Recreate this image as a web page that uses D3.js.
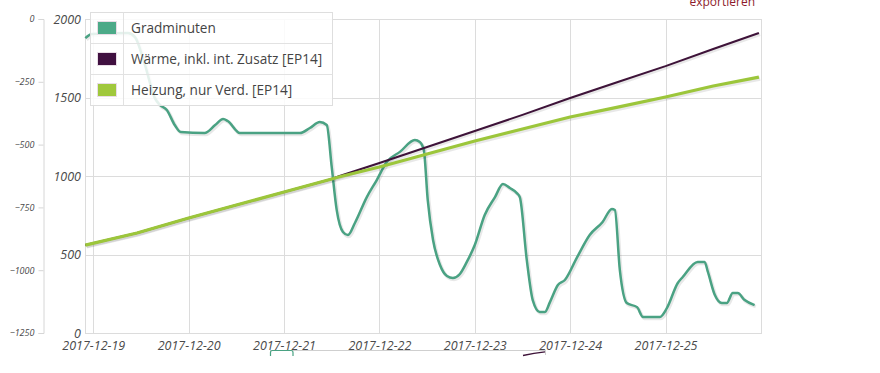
<!DOCTYPE html>
<html>
<head>
<meta charset="utf-8">
<script src="https://cdn.jsdelivr.net/npm/d3@7"></script>
<style>
  body { margin: 0; background: #fff; }
  svg text { font-family: "Open Sans", sans-serif; }
  .axis text { font-style: italic; fill: #4a4a4a; }
</style>
</head>
<body>
<div id="chart"></div>
<script>
// series: [time, value]
const gradminuten = [
	["2017-12-18 22:00", -76], ["2017-12-18 23:40", -60], ["2017-12-19 08:45", -56],
	["2017-12-19 10:30", -72], ["2017-12-19 13:00", -183], ["2017-12-19 15:30", -315],
	["2017-12-19 16:45", -342], ["2017-12-19 18:30", -362], ["2017-12-19 20:30", -422],
	["2017-12-19 22:00", -450], ["2017-12-20 04:00", -454], ["2017-12-20 06:40", -422],
	["2017-12-20 08:40", -398], ["2017-12-20 09:50", -406], ["2017-12-20 12:55", -454],
	["2017-12-21 04:00", -454], ["2017-12-21 06:30", -434], ["2017-12-21 09:00", -410],
	["2017-12-21 10:45", -422], ["2017-12-21 12:00", -589], ["2017-12-21 13:15", -760],
	["2017-12-21 14:50", -848], ["2017-12-21 16:05", -860], ["2017-12-21 17:50", -812],
	["2017-12-21 20:50", -709], ["2017-12-21 23:20", -641], ["2017-12-22 01:50", -569],
	["2017-12-22 05:10", -529], ["2017-12-22 08:55", -482], ["2017-12-22 10:10", -490],
	["2017-12-22 11:10", -521], ["2017-12-22 12:10", -721], ["2017-12-22 13:30", -880],
	["2017-12-22 15:15", -979], ["2017-12-22 17:00", -1023], ["2017-12-22 18:30", -1031],
	["2017-12-22 20:15", -1015], ["2017-12-22 22:00", -967], ["2017-12-23 00:00", -900],
	["2017-12-23 02:30", -780], ["2017-12-23 05:05", -709], ["2017-12-23 07:05", -657],
	["2017-12-23 08:50", -673], ["2017-12-23 10:35", -693], ["2017-12-23 11:20", -709],
	["2017-12-23 13:05", -959], ["2017-12-23 14:35", -1119], ["2017-12-23 16:20", -1166],
	["2017-12-23 17:40", -1166], ["2017-12-23 18:55", -1127], ["2017-12-23 20:55", -1059],
	["2017-12-23 22:40", -1039], ["2017-12-24 01:40", -951], ["2017-12-24 04:55", -860],
	["2017-12-24 08:10", -808], ["2017-12-24 10:30", -756], ["2017-12-24 11:15", -760],
	["2017-12-24 12:30", -999], ["2017-12-24 14:15", -1131], ["2017-12-24 16:50", -1147],
	["2017-12-24 18:20", -1186], ["2017-12-24 22:35", -1186], ["2017-12-25 00:20", -1151],
	["2017-12-25 03:05", -1051], ["2017-12-25 04:20", -1027], ["2017-12-25 08:05", -967],
	["2017-12-25 09:50", -967], ["2017-12-25 10:40", -1007], ["2017-12-25 12:25", -1099],
	["2017-12-25 14:10", -1131], ["2017-12-25 15:25", -1131], ["2017-12-25 16:55", -1091],
	["2017-12-25 18:10", -1091], ["2017-12-25 19:55", -1119], ["2017-12-25 22:25", -1139]
];

const waerme = [
	["2017-12-18 22:00", 560], ["2017-12-19 11:00", 637], ["2017-12-20 00:00", 732],
	["2017-12-20 12:00", 815], ["2017-12-21 00:00", 898], ["2017-12-21 12:00", 981],
	["2017-12-21 14:00", 1000], ["2017-12-22 00:00", 1083], ["2017-12-22 12:00", 1185],
	["2017-12-23 00:00", 1287], ["2017-12-23 12:00", 1389], ["2017-12-24 00:00", 1497],
	["2017-12-24 12:00", 1599], ["2017-12-25 00:00", 1700], ["2017-12-25 12:00", 1809],
	["2017-12-25 23:30", 1911]
];

const heizung = [
	["2017-12-18 22:00", 560], ["2017-12-19 11:00", 637], ["2017-12-20 00:00", 732],
	["2017-12-20 12:00", 815], ["2017-12-21 00:00", 898], ["2017-12-21 12:00", 981],
	["2017-12-21 14:00", 995], ["2017-12-22 00:00", 1057], ["2017-12-22 12:00", 1140],
	["2017-12-23 00:00", 1223], ["2017-12-23 12:00", 1299], ["2017-12-24 00:00", 1376],
	["2017-12-24 12:00", 1439], ["2017-12-25 00:00", 1503], ["2017-12-25 12:00", 1573],
	["2017-12-25 23:30", 1630]
];

const legendNames = ["Gradminuten", "Wärme, inkl. int. Zusatz [EP14]", "Heizung, nur Verd. [EP14]"];
const dayTicks = ["2017-12-19", "2017-12-20", "2017-12-21", "2017-12-22", "2017-12-23", "2017-12-24", "2017-12-25"];
const energyTicks = [0, 500, 1000, 1500, 2000];
const gradTicks = [0, -250, -500, -750, -1000, -1250];

const colors = ["#4aa283", "#3e1339", "#9cc63b"];
const swatchColors = ["#4caa88", "#401040", "#a0c83c"];

const width = 880, height = 373;
const margin = { top: 19, right: 120, bottom: 40, left: 85 };
const parseTime = d3.timeParse("%Y-%m-%d %H:%M");
const parseDay = d3.timeParse("%Y-%m-%d");

const svg = d3.select("#chart").append("svg")
	.attr("width", width)
	.attr("height", height);

const x = d3.scaleTime()
	.domain([parseTime("2017-12-18 21:55"), parseTime("2017-12-25 23:54")])
	.range([margin.left, 760.5]);

const yEnergy = d3.scaleLinear().domain([0, 2000]).range([333, margin.top]);
const yGrad = d3.scaleLinear().domain([-1250, 0]).range([333, margin.top]);

// grid
const grid = svg.append("g").attr("stroke", "#dcdcdc").attr("shape-rendering", "crispEdges");
grid.selectAll(".h").data(energyTicks).join("line")
	.attr("x1", x.range()[0]).attr("x2", x.range()[1])
	.attr("y1", d => Math.round(yEnergy(d)) + 0.5).attr("y2", d => Math.round(yEnergy(d)) + 0.5);
grid.selectAll(".v").data(dayTicks).join("line")
	.attr("x1", d => Math.round(x(parseDay(d))) + 0.5).attr("x2", d => Math.round(x(parseDay(d))) + 0.5)
	.attr("y1", margin.top).attr("y2", 333);
grid.append("rect")
	.attr("x", x.range()[0] + 0.5).attr("y", margin.top + 0.5)
	.attr("width", x.range()[1] - x.range()[0]).attr("height", 333 - margin.top)
	.attr("fill", "none");

// axes
const xAxis = d3.axisBottom(x)
	.tickValues(dayTicks.map(parseDay))
	.tickFormat(d3.timeFormat("%Y-%m-%d"))
	.tickSize(0).tickPadding(8);
svg.append("g").attr("class", "axis x-axis")
	.attr("transform", "translate(0,333)")
	.call(xAxis)
	.call(g => g.select(".domain").remove())
	.selectAll("text").style("font-size", "12.5px");

const yAxis = d3.axisLeft(yEnergy).tickValues(energyTicks).tickFormat(d3.format("d"))
	.tickSize(0).tickPadding(4);
svg.append("g").attr("class", "axis y-axis")
	.attr("transform", `translate(${margin.left},0)`)
	.call(yAxis)
	.call(g => g.select(".domain").remove())
	.selectAll("text").style("font-size", "12.5px");

const y2Axis = d3.axisLeft(yGrad).tickValues(gradTicks).tickFormat(d3.format("d"))
	.tickSize(5).tickPadding(4);
svg.append("g").attr("class", "axis y2-axis")
	.attr("transform", "translate(43.5,0)")
	.call(y2Axis)
	.call(g => g.selectAll(".domain, line").attr("stroke", "#d6d6d6"))
	.selectAll("text").style("font-size", "9px");

// lines
const lineGrad = d3.line().x(d => x(parseTime(d[0]))).y(d => yGrad(d[1])).curve(d3.curveMonotoneX);
const lineEnergy = d3.line().x(d => x(parseTime(d[0]))).y(d => yEnergy(d[1]));

const series = [
	{ data: gradminuten, line: lineGrad, width: 2.5 },
	{ data: waerme, line: lineEnergy, width: 2 },
	{ data: heizung, line: lineEnergy, width: 3.2 }
];

const plot = svg.append("g");
series.forEach((s, i) => {
	plot.append("path")
		.attr("d", s.line(s.data))
		.attr("fill", "none")
		.attr("stroke", "rgba(0,0,0,0.09)")
		.attr("stroke-width", s.width + 1)
		.attr("transform", "translate(1.2,1.5)");
	plot.append("path")
		.attr("d", s.line(s.data))
		.attr("fill", "none")
		.attr("stroke", colors[i])
		.attr("stroke-width", s.width)
		.attr("stroke-linejoin", "round");
});

// legend
const legend = svg.append("g").attr("transform", "translate(90,12)");
const rowH = 31, legW = 242;
legend.append("rect")
	.attr("x", 0.5).attr("y", 0.5).attr("width", legW).attr("height", rowH * 3)
	.attr("fill", "rgba(255,255,255,0.85)").attr("stroke", "#dedede");
legend.append("line")
	.attr("x1", 33.5).attr("x2", 33.5).attr("y1", 0.5).attr("y2", rowH * 3 + 0.5)
	.attr("stroke", "#e2e2e2");
const rows = legend.selectAll(".row").data(legendNames).join("g")
	.attr("transform", (d, i) => `translate(0,${i * rowH})`);
rows.filter((d, i) => i > 0).append("line")
	.attr("x1", 0.5).attr("x2", legW + 0.5).attr("y1", 0.5).attr("y2", 0.5)
	.attr("stroke", "#e2e2e2");
rows.append("rect")
	.attr("x", 7.5).attr("y", 9.5).attr("width", 19).attr("height", 13)
	.attr("fill", (d, i) => swatchColors[i])
	.attr("stroke", "#e8dde6");
rows.append("text")
	.attr("x", 41).attr("y", 21)
	.style("font-size", "13.6px").attr("fill", "#444")
	.text(d => d);

// export link
svg.append("text")
	.attr("x", 755).attr("y", 6).attr("text-anchor", "end")
	.style("font-size", "12px").attr("fill", "#8e1b2c")
	.text("exportieren");

// remains of the range navigator below the chart
const nav = svg.append("g").attr("fill", "none");
nav.append("line").attr("x1", 270).attr("x2", 545).attr("y1", 350.5).attr("y2", 350.5)
	.attr("stroke", "#cfcfcf");
nav.append("line").attr("x1", 545.5).attr("x2", 545.5).attr("y1", 350).attr("y2", 355)
	.attr("stroke", "#cfcfcf");
nav.append("path").attr("d", "M270.5,356V352.5Q270.5,350.5,272.5,350.5H291Q293,350.5,293,352.5V356")
	.attr("stroke", "#4aa283").attr("stroke-width", 1.2);
nav.append("path").attr("d", "M523,355.5Q534,353,545,351.8")
	.attr("stroke", "#3e1339").attr("stroke-width", 1.3);
</script>
</body>
</html>
